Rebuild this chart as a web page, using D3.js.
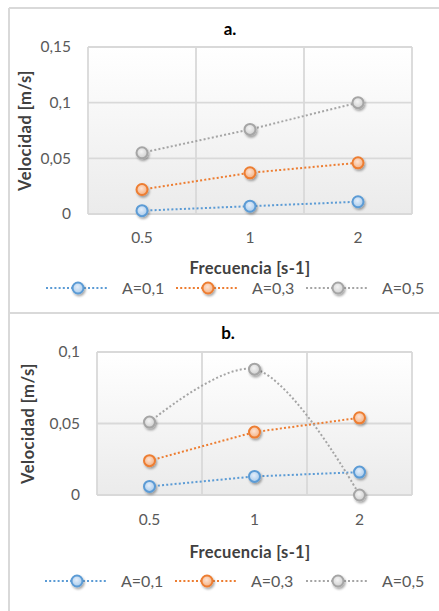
<!DOCTYPE html>
<html>
<head>
<meta charset="utf-8">
<script src="https://cdn.jsdelivr.net/npm/d3@7"></script>
<style>
  body { margin: 0; background: #fff; }
  svg { display: block; font-family: Lato, "Open Sans", sans-serif; }
</style>
</head>
<body>
<div id="chart"></div>
<script>
// data
var categories = ["0.5", "1", "2"];
var seriesNames = ["A=0,1", "A=0,3", "A=0,5"];

var aA01 = [0.003, 0.007, 0.011];
var aA03 = [0.022, 0.037, 0.046];
var aA05 = [0.055, 0.076, 0.100];

var bA01 = [0.006, 0.013, 0.016];
var bA03 = [0.024, 0.044, 0.054];
var bA05 = [0.051, 0.088, 0.000];

var aTicks = [0, 0.05, 0.1, 0.15];
var bTicks = [0, 0.05, 0.1];

var colors = ["#5B9BD5", "#ED7D31", "#A5A5A5"];
var fills = [["#e4eefa", "#a9cbeb"], ["#fde3d3", "#f4b183"], ["#f4f4f4", "#cfcfcf"]];

var width = 439, height = 611;

var svg = d3.select("#chart")
    .append("svg")
    .attr("width", width)
    .attr("height", height);

var defs = svg.append("defs");

var bg = defs.append("linearGradient")
    .attr("id", "plotbg")
    .attr("x1", 0).attr("y1", 0).attr("x2", 0).attr("y2", 1);
bg.append("stop").attr("offset", "0%").attr("stop-color", "#ffffff");
bg.append("stop").attr("offset", "100%").attr("stop-color", "#ebebeb");

fills.forEach(function (f, i) {
  var g = defs.append("radialGradient")
      .attr("id", "mk" + i)
      .attr("cx", "45%").attr("cy", "40%").attr("r", "60%");
  g.append("stop").attr("offset", "0%").attr("stop-color", f[0]);
  g.append("stop").attr("offset", "100%").attr("stop-color", f[1]);
});

var shadow = defs.append("filter")
    .attr("id", "shadow")
    .attr("x", "-50%").attr("y", "-50%").attr("width", "200%").attr("height", "200%");
shadow.append("feDropShadow")
    .attr("dx", 1.2).attr("dy", 1.8)
    .attr("stdDeviation", 1.2)
    .attr("flood-color", "#000")
    .attr("flood-opacity", 0.35);

// outer frame
var frame = svg.append("g")
    .attr("stroke", "#d9d9d9")
    .attr("stroke-width", 2);
frame.append("line").attr("x1", 9).attr("x2", width).attr("y1", 8).attr("y2", 8);
frame.append("line").attr("x1", 9).attr("x2", 9).attr("y1", 8).attr("y2", height);
frame.append("line").attr("x1", 9).attr("x2", width).attr("y1", 313).attr("y2", 313);

var fmt = d3.formatLocale({decimal: ",", thousands: ".", grouping: [3], currency: ["", ""]});

function tickFormat(d) {
  if (d === 0) return "0";
  return fmt.format("~g")(d);
}

function drawPanel(opt) {
  var x = d3.scaleBand()
      .domain(categories)
      .range([opt.left, opt.right]);

  var y = d3.scaleLinear()
      .domain([0, d3.max(opt.ticks)])
      .range([opt.bottom, opt.top]);

  var g = svg.append("g");

  g.append("rect")
      .attr("x", opt.left)
      .attr("y", opt.top)
      .attr("width", opt.right - opt.left)
      .attr("height", opt.bottom - opt.top)
      .attr("fill", "url(#plotbg)");

  // gridlines
  g.append("g")
      .selectAll("line")
      .data(opt.ticks)
      .join("line")
      .attr("x1", opt.left).attr("x2", opt.right)
      .attr("y1", function (d) { return y(d); })
      .attr("y2", function (d) { return y(d); })
      .attr("stroke", "#d9d9d9")
      .attr("stroke-width", 1.8);

  var vx = categories.map(function (c) { return x(c); }).concat([opt.right]);
  g.append("g")
      .selectAll("line")
      .data(vx)
      .join("line")
      .attr("x1", function (d) { return d; })
      .attr("x2", function (d) { return d; })
      .attr("y1", opt.top).attr("y2", opt.bottom)
      .attr("stroke", "#d9d9d9")
      .attr("stroke-width", 1.8);

  // y tick labels
  g.append("g")
      .selectAll("text")
      .data(opt.ticks)
      .join("text")
      .attr("x", opt.left - 17)
      .attr("y", function (d) { return y(d); })
      .attr("dy", "0.35em")
      .attr("text-anchor", "end")
      .attr("fill", "#595959")
      .style("font-size", "15.5px")
      .text(tickFormat);

  // x tick labels
  g.append("g")
      .selectAll("text")
      .data(categories)
      .join("text")
      .attr("x", function (d) { return x(d) + x.bandwidth() / 2; })
      .attr("y", opt.xLabelY)
      .attr("dy", "0.35em")
      .attr("text-anchor", "middle")
      .attr("fill", "#595959")
      .style("font-size", "15.5px")
      .text(function (d) { return d; });

  // title
  g.append("text")
      .attr("x", opt.titleX)
      .attr("y", opt.titleY)
      .attr("dy", "0.35em")
      .attr("text-anchor", "middle")
      .attr("fill", "#000")
      .style("font-size", "17px")
      .style("font-weight", "bold")
      .text(opt.title);

  // axis titles
  g.append("text")
      .attr("transform", "translate(" + opt.yTitleX + "," + ((opt.top + opt.bottom) / 2) + ") rotate(-90)")
      .attr("dy", "0.35em")
      .attr("text-anchor", "middle")
      .attr("fill", "#404040")
      .style("font-size", "16.5px")
      .style("font-weight", "bold")
      .style("letter-spacing", "0.5px")
      .text("Velocidad [m/s]");

  g.append("text")
      .attr("x", 250)
      .attr("y", opt.xTitleY)
      .attr("dy", "0.35em")
      .attr("text-anchor", "middle")
      .attr("fill", "#404040")
      .style("font-size", "16.5px")
      .style("font-weight", "bold")
      .style("letter-spacing", "0.3px")
      .text("Frecuencia [s-1]");

  // series
  opt.series.forEach(function (s, k) {
    var line = d3.line()
        .x(function (d, i) { return x(categories[i]) + x.bandwidth() / 2; })
        .y(function (d) { return y(d); })
        .curve(opt.smooth[k] ? d3.curveCatmullRom : d3.curveLinear);

    g.append("path")
        .datum(s)
        .attr("d", line)
        .attr("fill", "none")
        .attr("stroke", colors[k])
        .attr("stroke-width", 2)
        .attr("stroke-dasharray", "2 2.2");
  });

  opt.series.forEach(function (s, k) {
    g.append("g")
        .selectAll("circle")
        .data(s)
        .join("circle")
        .attr("cx", function (d, i) { return x(categories[i]) + x.bandwidth() / 2; })
        .attr("cy", function (d) { return y(d); })
        .attr("r", 5.5)
        .attr("fill", "url(#mk" + k + ")")
        .attr("stroke", colors[k])
        .attr("stroke-width", 2)
        .attr("filter", "url(#shadow)");
  });

  // legend
  var legX = opt.legendX;
  var leg = g.append("g")
      .selectAll("g")
      .data(seriesNames)
      .join("g")
      .attr("transform", function (d, i) { return "translate(" + legX[i] + "," + opt.legendY + ")"; });

  leg.append("line")
      .attr("x1", 0).attr("x2", 62)
      .attr("stroke", function (d, i) { return colors[i]; })
      .attr("stroke-width", 2)
      .attr("stroke-dasharray", "2 2.2");

  leg.append("circle")
      .attr("cx", 32)
      .attr("r", 5.5)
      .attr("fill", function (d, i) { return "url(#mk" + i + ")"; })
      .attr("stroke", function (d, i) { return colors[i]; })
      .attr("stroke-width", 2)
      .attr("filter", "url(#shadow)");

  leg.append("text")
      .attr("x", 76)
      .attr("dy", "0.35em")
      .attr("fill", "#595959")
      .style("font-size", "16px")
      .text(function (d) { return d; });
}

drawPanel({
  title: "a.", titleX: 230, titleY: 29,
  left: 88, right: 412, top: 47, bottom: 214,
  ticks: aTicks,
  series: [aA01, aA03, aA05],
  smooth: [false, false, false],
  xLabelY: 238, xTitleY: 268, yTitleX: 25,
  legendX: [46, 176, 306], legendY: 288
});

drawPanel({
  title: "b.", titleX: 228, titleY: 333,
  left: 97, right: 412, top: 352, bottom: 495,
  ticks: bTicks,
  series: [bA01, bA03, bA05],
  smooth: [false, false, true],
  xLabelY: 520, xTitleY: 552, yTitleX: 28,
  legendX: [45, 175, 306], legendY: 581
});
</script>
</body>
</html>
